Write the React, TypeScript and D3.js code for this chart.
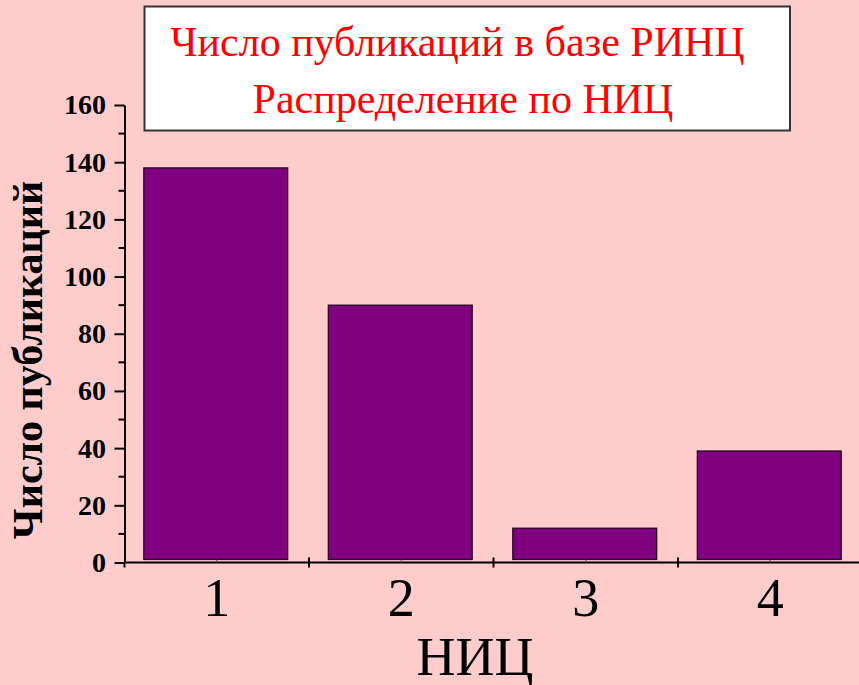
import React, { useRef, useEffect } from "react";
import * as d3 from "d3";

// Data
const categories = ["1", "2", "3", "4"];
const publications = [138, 90, 12, 39];
const yTicks = [0, 20, 40, 60, 80, 100, 120, 140, 160];
const titleLines = ["Число публикаций в базе РИНЦ", "Распределение по НИЦ"];
const xTitle = "НИЦ";
const yTitle = "Число публикаций";

const W = 859;
const H = 685;
const SERIF = "'Liberation Serif', 'Times New Roman', serif";

export default function App() {
  const svgRef = useRef<SVGSVGElement>(null);

  useEffect(() => {
    const svg = d3.select(svgRef.current);
    svg.selectAll("*").remove();

    const left = 124.5;
    const bottom = 562.5;
    const top = 105;

    const x = d3
      .scaleBand<string>()
      .domain(categories)
      .range([left, left + 184.5 * categories.length])
      .paddingInner(0.22)
      .paddingOuter(0.11);

    const y = d3.scaleLinear().domain([0, 160]).range([bottom, top]);

    svg.append("rect").attr("width", W).attr("height", H).attr("fill", "#ffcccc");

    // Title box
    svg
      .append("rect")
      .attr("x", 144.5)
      .attr("y", 6.5)
      .attr("width", 645.5)
      .attr("height", 124)
      .attr("fill", "#ffffff")
      .attr("stroke", "#333333")
      .attr("stroke-width", 2);

    svg
      .selectAll("text.title")
      .data(titleLines)
      .join("text")
      .attr("class", "title")
      .attr("x", (d, i) => (i === 0 ? 457.5 : 463))
      .attr("y", (d, i) => 56 + i * 57)
      .attr("text-anchor", "middle")
      .attr("font-family", SERIF)
      .attr("font-size", 42)
      .attr("fill", "#ff0000")
      .text((d) => d);

    // Bars
    const data = categories.map((c, i) => ({ c, v: publications[i] }));
    svg
      .selectAll("rect.bar")
      .data(data)
      .join("rect")
      .attr("class", "bar")
      .attr("x", (d) => x(d.c)! - 1)
      .attr("y", (d) => y(d.v))
      .attr("width", x.bandwidth())
      .attr("height", (d) => y(0) - 3 - y(d.v))
      .attr("fill", "#800080")
      .attr("stroke", "#1a001a")
      .attr("stroke-width", 1.2);

    // Y axis
    const yAxis = svg.append("g").attr("transform", `translate(${left},0)`);
    yAxis
      .call(
        d3
          .axisLeft(y)
          .tickValues(yTicks)
          .tickSize(10)
          .tickSizeOuter(0)
          .tickFormat(d3.format("d"))
      )
      .call((g) => g.select(".domain").attr("stroke-width", 2))
      .call((g) => g.selectAll(".tick line").attr("stroke-width", 2))
      .selectAll("text")
      .attr("x", -18.5)
      .attr("font-family", SERIF)
      .attr("font-weight", "bold")
      .attr("font-size", 28)
      .attr("fill", "#000");

    // minor ticks
    const minor = d3.range(10, 160, 20);
    yAxis
      .selectAll("line.minor")
      .data(minor)
      .join("line")
      .attr("class", "minor")
      .attr("x1", -6)
      .attr("x2", 0)
      .attr("y1", (d) => y(d))
      .attr("y2", (d) => y(d))
      .attr("stroke", "#000")
      .attr("stroke-width", 2);

    // X axis
    const xAxis = svg.append("g").attr("transform", `translate(0,${bottom})`);
    xAxis
      .append("line")
      .attr("x1", left)
      .attr("x2", W)
      .attr("stroke", "#000")
      .attr("stroke-width", 2);
    const step = x.step();
    const gap = (step * x.paddingInner()) / 2;
    xAxis
      .selectAll("line.major")
      .data(categories)
      .join("line")
      .attr("class", "major")
      .attr("x1", (d) => x(d)! - gap)
      .attr("x2", (d) => x(d)! - gap)
      .attr("y1", (d, i) => (i === 0 ? 0 : -5))
      .attr("y2", 5)
      .attr("stroke", "#000")
      .attr("stroke-width", 2);
    xAxis
      .selectAll("line.center")
      .data(categories)
      .join("line")
      .attr("class", "center")
      .attr("x1", (d) => x(d)! + x.bandwidth() / 2)
      .attr("x2", (d) => x(d)! + x.bandwidth() / 2)
      .attr("y1", -3)
      .attr("y2", 0)
      .attr("stroke", "#555")
      .attr("stroke-width", 1);
    xAxis
      .selectAll("text.cat")
      .data(categories)
      .join("text")
      .attr("class", "cat")
      .attr("x", (d) => x(d)! + x.bandwidth() / 2)
      .attr("y", 53.5)
      .attr("text-anchor", "middle")
      .attr("font-family", SERIF)
      .attr("font-size", 54)
      .attr("fill", "#000")
      .text((d) => d);

    // Axis titles
    svg
      .append("text")
      .attr("x", 475)
      .attr("y", 675)
      .attr("text-anchor", "middle")
      .attr("font-family", SERIF)
      .attr("font-size", 54)
      .attr("fill", "#000")
      .text(xTitle);

    svg
      .append("text")
      .attr("transform", "translate(42,360) rotate(-90)")
      .attr("text-anchor", "middle")
      .attr("font-family", SERIF)
      .attr("font-weight", "bold")
      .attr("font-size", 42)
      .attr("fill", "#000")
      .text(yTitle);
  }, []);

  return (
    <div style={{ position: "absolute", left: 0, top: 0 }}>
      <svg ref={svgRef} width={W} height={H} style={{ display: "block" }} />
    </div>
  );
}
